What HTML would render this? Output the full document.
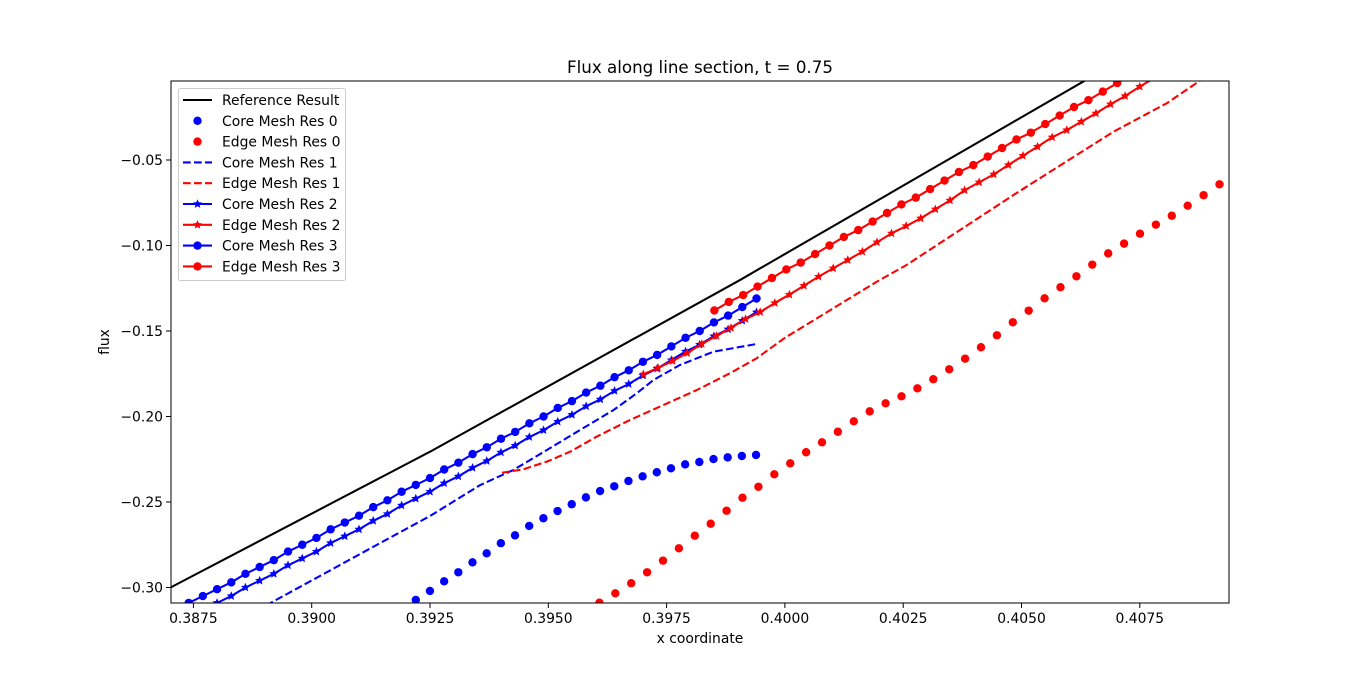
<!DOCTYPE html>
<html><head><meta charset="utf-8">
<style>
html,body{margin:0;padding:0;background:#fff;}
svg{display:block;font-family:"DejaVu Sans","Liberation Sans",sans-serif;}
</style></head>
<body>
<svg id="chart" width="1366" height="677" viewBox="0 0 1366 677" xmlns="http://www.w3.org/2000/svg">
<rect x="0" y="0" width="1366" height="677" fill="#fff"/>
<text x="700" y="73" font-size="16.7" text-anchor="middle">Flux along line section, t = 0.75</text>
<defs><clipPath id="plotclip"><rect x="171" y="81" width="1058" height="522"/></clipPath></defs>
<g id="marks" clip-path="url(#plotclip)"></g>
<rect x="171" y="81" width="1058" height="522" fill="none" stroke="#000" stroke-width="1"/>
<g id="xticks"></g>
<g id="yticks"></g>
<text x="700" y="643" font-size="13.9" text-anchor="middle">x coordinate</text>
<text x="0" y="0" font-size="13.9" text-anchor="middle" transform="translate(109,342) rotate(-90)">flux</text>
<g id="legend"></g>
</svg>
<script>
const xTicks = [0.3875, 0.3900, 0.3925, 0.3950, 0.3975, 0.4000, 0.4025, 0.4050, 0.4075];
const xTickLabels = ["0.3875","0.3900","0.3925","0.3950","0.3975","0.4000","0.4025","0.4050","0.4075"];
const yTicks = [-0.05, -0.10, -0.15, -0.20, -0.25, -0.30];
const yTickLabels = ["\u22120.05","\u22120.10","\u22120.15","\u22120.20","\u22120.25","\u22120.30"];

const refX = [0.38701, 0.39250, 0.39905, 0.40630, 0.4094];
const refY = [-0.3001, -0.2206, -0.1202, -0.0042, 0.040];

const core3X0 = 0.3874, core3Step = 0.0003;
const core3Y = [-0.309,-0.305,-0.301,-0.297,-0.292,-0.288,-0.284,-0.279,-0.275,-0.271,-0.266,-0.262,-0.258,-0.253,-0.249,-0.244,-0.240,-0.236,-0.231,-0.227,-0.222,-0.218,-0.213,-0.209,-0.204,-0.200,-0.195,-0.191,-0.186,-0.182,-0.177,-0.173,-0.168,-0.164,-0.159,-0.154,-0.150,-0.145,-0.141,-0.136,-0.131];
const core2Y = [-0.317,-0.313,-0.309,-0.305,-0.300,-0.296,-0.292,-0.287,-0.283,-0.279,-0.274,-0.270,-0.266,-0.261,-0.257,-0.252,-0.248,-0.244,-0.239,-0.235,-0.230,-0.226,-0.221,-0.217,-0.212,-0.208,-0.203,-0.199,-0.194,-0.190,-0.185,-0.181,-0.176,-0.172,-0.167,-0.162,-0.158,-0.153,-0.149,-0.144,-0.139];

const edge3X0 = 0.39851, edge3Step = 0.000304;
const edge3Y = [-0.138,-0.133,-0.129,-0.124,-0.119,-0.114,-0.110,-0.105,-0.100,-0.095,-0.091,-0.086,-0.081,-0.076,-0.072,-0.067,-0.062,-0.057,-0.053,-0.048,-0.043,-0.038,-0.034,-0.029,-0.024,-0.019,-0.015,-0.010,-0.005,0.000,0.004,0.009];

const edge2X0 = 0.39701, edge2Step = 0.0003085;
const edge2Y = [-0.1753,-0.1716,-0.1675,-0.1629,-0.1576,-0.1529,-0.1482,-0.1430,-0.1389,-0.1336,-0.1287,-0.1235,-0.1182,-0.1133,-0.1085,-0.1036,-0.0981,-0.0929,-0.0886,-0.0841,-0.0788,-0.0736,-0.0677,-0.0630,-0.0584,-0.0529,-0.0475,-0.0422,-0.0367,-0.0325,-0.0276,-0.0227,-0.0174,-0.0126,-0.0071,-0.002];

const core0X0 = 0.39190, core0Step = 0.0002996;
const core0Y = [-0.313,-0.3073,-0.3020,-0.2964,-0.2911,-0.2853,-0.2800,-0.2741,-0.2695,-0.2640,-0.2595,-0.2553,-0.2513,-0.2473,-0.2436,-0.2408,-0.2377,-0.2350,-0.2326,-0.2303,-0.2280,-0.2266,-0.2249,-0.2239,-0.2231,-0.2225];

const edge0X0 = 0.395744, edge0Step = 0.000336;
const edge0Y = [-0.315,-0.3089,-0.3034,-0.2975,-0.2911,-0.2843,-0.2771,-0.2697,-0.2627,-0.2551,-0.2475,-0.2411,-0.2338,-0.2274,-0.2209,-0.2151,-0.2089,-0.2028,-0.1970,-0.1923,-0.1882,-0.1835,-0.1782,-0.1724,-0.1662,-0.1595,-0.1525,-0.1449,-0.1381,-0.1309,-0.1244,-0.1180,-0.1112,-0.1046,-0.0989,-0.0931,-0.0878,-0.0826,-0.0767,-0.0706,-0.0642];

const core1X = [0.38870,0.38912,0.39039,0.39144,0.39250,0.39356,0.39426,0.39497,0.39567,0.39638,0.39687,0.39722,0.39778,0.39849,0.39940];
const core1Y = [-0.3195,-0.3092,-0.2900,-0.2741,-0.2582,-0.2401,-0.2313,-0.2196,-0.2079,-0.1962,-0.1864,-0.1787,-0.1699,-0.1621,-0.1576];

const edge1X = [0.39402,0.39447,0.39497,0.39546,0.39602,0.39673,0.39743,0.39814,0.39884,0.39940,0.40000,0.40194,0.40257,0.40483,0.40694,0.40807,0.40874,0.4094];
const edge1Y = [-0.2329,-0.2309,-0.2264,-0.2206,-0.2118,-0.2020,-0.1933,-0.1845,-0.1747,-0.1660,-0.1540,-0.1212,-0.1114,-0.0705,-0.0335,-0.0168,-0.0042,0.008];

const X0 = 0.3875, XPX0 = 193.4, XS = 47320;
const Y0 = -0.05, YPX0 = 160, YS = 1710;
function sx(v){ return XPX0 + (v - X0) * XS; }
function sy(v){ return YPX0 - (v - Y0) * YS; }

const NS = "http://www.w3.org/2000/svg";
const marks = document.getElementById('marks');
function mk(tag, attrs, parent){ const e = document.createElementNS(NS, tag); for (const k in attrs) e.setAttribute(k, attrs[k]); parent.appendChild(e); return e; }
function gridX(x0, step, n){ const a=[]; for(let i=0;i<n;i++) a.push(x0+step*i); return a; }
function starPath(cx, cy, r){
  let d=''; const ri=r*0.45;
  for(let i=0;i<10;i++){ const ang=-Math.PI/2+i*Math.PI/5; const rr=i%2?ri:r; d+=(i?'L':'M')+(cx+rr*Math.cos(ang)).toFixed(2)+' '+(cy+rr*Math.sin(ang)).toFixed(2); }
  return d+'Z';
}
function drawLine(xs, ys, color, dash, name){
  const pts = xs.map((x,i)=>sx(x).toFixed(2)+','+sy(ys[i]).toFixed(2)).join(' ');
  const p = mk('polyline', {points: pts, fill:'none', stroke: color, 'stroke-width': 2.08, 'stroke-linejoin':'round'}, marks);
  if (dash) p.setAttribute('stroke-dasharray', '7.7,3.3');
  
  
}
function drawDots(xs, ys, color, name){
  const g = mk('g', {fill: color}, marks);
  
  
  xs.forEach((x,i)=>{ const c = mk('circle', {cx: sx(x).toFixed(2), cy: sy(ys[i]).toFixed(2), r: 4.2}, g);
    
     });
}
function drawStars(xs, ys, color, name){
  const g = mk('g', {fill: color}, marks);
  
  
  xs.forEach((x,i)=>{ const s = mk('path', {d: starPath(sx(x), sy(ys[i]), 4.8)}, g);
    
     });
}

drawLine(refX, refY, '#000', false, 'reference-result-line');
const c0x = gridX(core0X0, core0Step, core0Y.length);
drawDots(c0x, core0Y, '#0000ff', 'core-mesh-res-0');
const e0x = gridX(edge0X0, edge0Step, edge0Y.length);
drawDots(e0x, edge0Y, '#ff0000', 'edge-mesh-res-0');
drawLine(core1X, core1Y, '#0000ff', true, 'core-mesh-res-1-line');
drawLine(edge1X, edge1Y, '#ff0000', true, 'edge-mesh-res-1-line');
const c2x = gridX(core3X0, core3Step, core2Y.length);
drawLine(c2x, core2Y, '#0000ff', false, 'core-mesh-res-2-line');
drawStars(c2x, core2Y, '#0000ff', 'core-mesh-res-2');
const e2x = gridX(edge2X0, edge2Step, edge2Y.length);
drawLine(e2x, edge2Y, '#ff0000', false, 'edge-mesh-res-2-line');
drawStars(e2x, edge2Y, '#ff0000', 'edge-mesh-res-2');
const c3x = gridX(core3X0, core3Step, core3Y.length);
drawLine(c3x, core3Y, '#0000ff', false, 'core-mesh-res-3-line');
drawDots(c3x, core3Y, '#0000ff', 'core-mesh-res-3');
const e3x = gridX(edge3X0, edge3Step, edge3Y.length);
drawLine(e3x, edge3Y, '#ff0000', false, 'edge-mesh-res-3-line');
drawDots(e3x, edge3Y, '#ff0000', 'edge-mesh-res-3');

const xt = document.getElementById('xticks');
xTicks.forEach((v,i)=>{
  const px = sx(v);
  const t = mk('line', {x1:px, x2:px, y1:603, y2:608, stroke:'#000', 'stroke-width':1}, xt);
  
  
  const l = mk('text', {x:px, y:623, 'font-size':13.9, 'text-anchor':'middle'}, xt);
  l.textContent = xTickLabels[i];
  
  
});
const yt = document.getElementById('yticks');
yTicks.forEach((v,i)=>{
  const py = sy(v);
  const t = mk('line', {x1:166, x2:171, y1:py, y2:py, stroke:'#000', 'stroke-width':1}, yt);
  
  
  const l = mk('text', {x:163, y:py+5, 'font-size':13.9, 'text-anchor':'end'}, yt);
  l.textContent = yTickLabels[i];
  
  
});

const legendLabels = ["Reference Result","Core Mesh Res 0","Edge Mesh Res 0","Core Mesh Res 1","Edge Mesh Res 1","Core Mesh Res 2","Edge Mesh Res 2","Core Mesh Res 3","Edge Mesh Res 3"];
const legendColors = ['#000','#0000ff','#ff0000','#0000ff','#ff0000','#0000ff','#ff0000','#0000ff','#ff0000'];
const legendKinds = ['line','dot','dot','dash','dash','starline','starline','dotline','dotline'];
const lg = document.getElementById('legend');
mk('rect', {x:178.5, y:88.5, width:167, height:192, rx:2, fill:'#fff', 'fill-opacity':0.8, stroke:'#ccc', 'stroke-width':1}, lg);
legendLabels.forEach((lab,i)=>{
  const y = 100 + i*20.8;
  const g = mk('g', {}, lg);
  
  
  const c = legendColors[i], k = legendKinds[i];
  if (k !== 'dot') {
    const ln = mk('line', {x1:183, x2:212, y1:y, y2:y, stroke:c, 'stroke-width':2.08}, g);
    if (k === 'dash') ln.setAttribute('stroke-dasharray','7.7,3.3');
  }
  if (k === 'dot' || k === 'dotline') mk('circle', {cx:197.5, cy:y, r:4.2, fill:c}, g);
  if (k === 'starline') mk('path', {d: starPath(197.5, y, 4.8), fill:c}, g);
  const t = mk('text', {x:222, y:y+5, 'font-size':13.9}, g);
  t.textContent = lab;
});
</script>
</body></html>
